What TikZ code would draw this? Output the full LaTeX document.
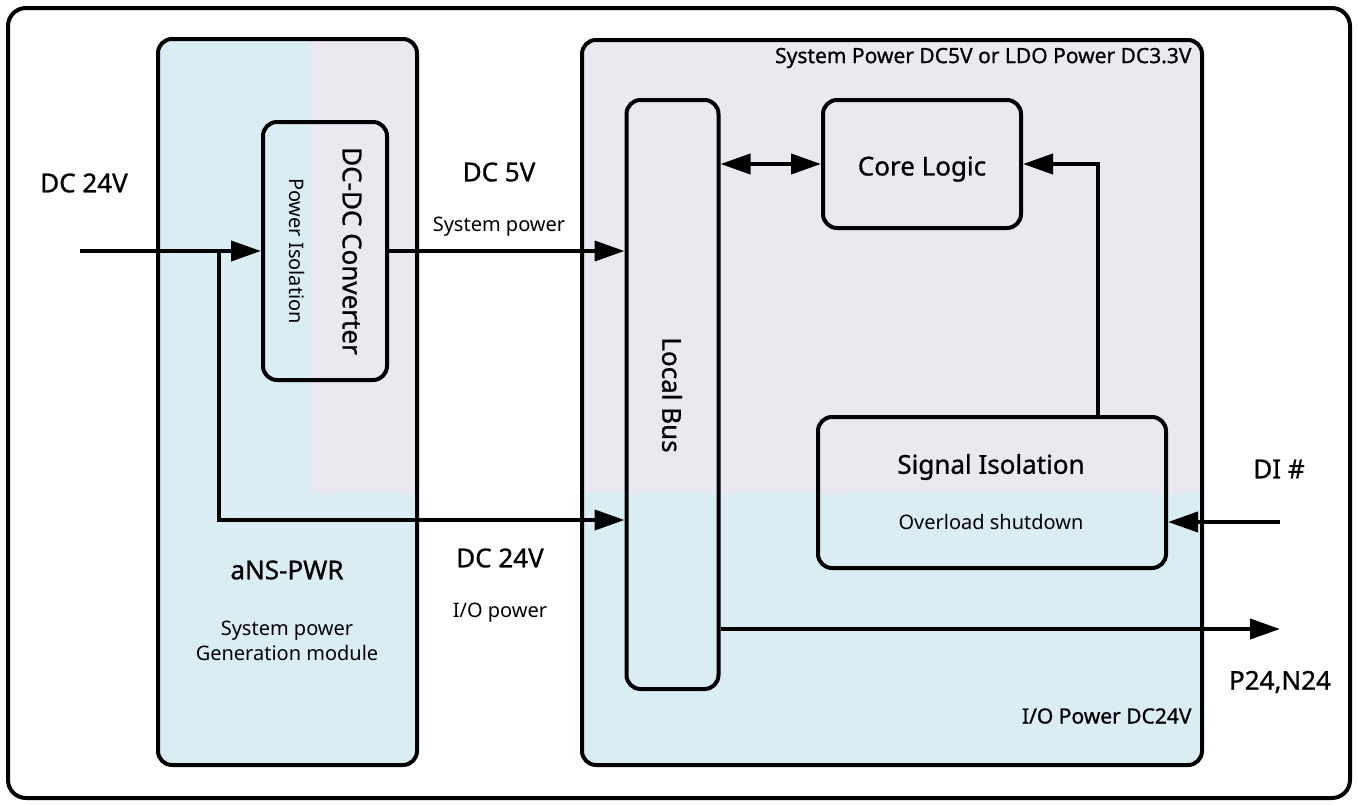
\documentclass[tikz,border=0pt]{standalone}
\usepackage{fontspec}
\setmainfont{Noto Sans}
\newfontfamily\medfont[FakeBold=0.9]{Noto Sans}
\usetikzlibrary{arrows.meta, positioning}

\definecolor{pwrblue}{HTML}{DAEDF2}
\definecolor{syslav}{HTML}{ECE8F0}

\begin{document}
\begin{tikzpicture}[x=1pt, y=-1pt, >={Triangle[length=30pt, width=20pt]},
  box/.style={draw, line width=4pt, rounded corners=14pt, inner sep=0pt},
  conn/.style={line width=4pt},
  head/.style={font=\medfont\fontsize{26}{30}\selectfont},
  small/.style={font=\fontsize{20}{25}\selectfont, align=center},
  note/.style={font=\medfont\fontsize{21}{25}\selectfont, anchor=east}]
  \useasboundingbox (0,0) rectangle (1358,806);
  % module backgrounds
  \fill[pwrblue, rounded corners=15pt] (158,39) rectangle (417,765);
  \fill[pwrblue, rounded corners=15pt] (582,40) rectangle (1202,765);
  \begin{scope}
    \clip[rounded corners=15pt] (158,39) rectangle (417,765);
    \fill[syslav] (310,0) rectangle (420,493);
  \end{scope}
  \begin{scope}
    \clip[rounded corners=15pt] (582,40) rectangle (1202,765);
    \fill[syslav] (580,0) rectangle (1205,493);
  \end{scope}
  \draw[line width=4pt, rounded corners=18pt] (8,8) rectangle (1350,798);

  % blocks
  \node[box, minimum width=259pt, minimum height=726pt] (pwr) at (287.5,402) {};
  \node[box, minimum width=620pt, minimum height=725pt] (sys) at (892,402.5) {};
  \node[box, minimum width=124pt, minimum height=258pt] (dcdc) at (325,251) {};
  \node[box, minimum width=92pt, minimum height=589pt] (bus) at (672.5,394.5) {};
  \node[box, minimum width=198pt, minimum height=128pt] (core) at (922,164) {};
  \node[box, minimum width=348pt, minimum height=151pt] (sig) at (992,492.5) {};

  % texts
  \node[head, rotate=-90] (dcdctitle) at (352,251) {DC-DC Converter};
  \node[small, rotate=-90] (dcdcsub) at (297,251) {Power Isolation};
  \node[head, rotate=-90] (bustitle) at (672,395) {Local Bus};
  \node[head] (coretitle) at (922,169) {Core Logic};
  \node[head] (sigtitle) at (991,467) {Signal Isolation};
  \node[small] (sigsub) at (991,522) {Overload shutdown};
  \node[head] (pwrtitle) at (287,570) {aNS-PWR};
  \node[small] (pwrsub) at (287,641) {System power\\Generation module};
  \node[note] (sysnote) at (1195,58) {System Power DC5V or LDO Power DC3.3V};
  \node[note] (ionote) at (1195,716) {I/O Power DC24V};
  \node[head] (inlabel) at (84,183) {DC 24V};
  \node[head] (v5label) at (499,172) {DC 5V};
  \node[small] (v5sub) at (499,227) {System power};
  \node[head] (v24label) at (500,558) {DC 24V};
  \node[small] (v24sub) at (500,613) {I/O power};
  \node[head] (dilabel) at (1279,469) {DI \#};
  \node[head] (outlabel) at (1280,682) {P24,N24};

  % connectors
  \coordinate (in24) at (80,251);
  \coordinate (br) at (219,251);
  \coordinate (brend) at (219,520);
  \coordinate (tap) at (1098,0);
  \coordinate (di) at (1280,522);
  \coordinate (out) at (1280,629);
  \draw[conn, ->] (in24) -- (dcdc.west);
  \draw[conn, ->] (br) -- (brend) -- (bus.west |- brend);
  \draw[conn, ->] (dcdc.east) -- (bus.west |- dcdc.east);
  \draw[conn, <->] (bus.east |- core.west) -- (core.west);
  \draw[conn, ->] (sig.north -| tap) |- (core.east);
  \draw[conn, ->] (di) -- (sig.east |- di);
  \draw[conn, ->] (bus.east |- out) -- (out);
\end{tikzpicture}
\end{document}
